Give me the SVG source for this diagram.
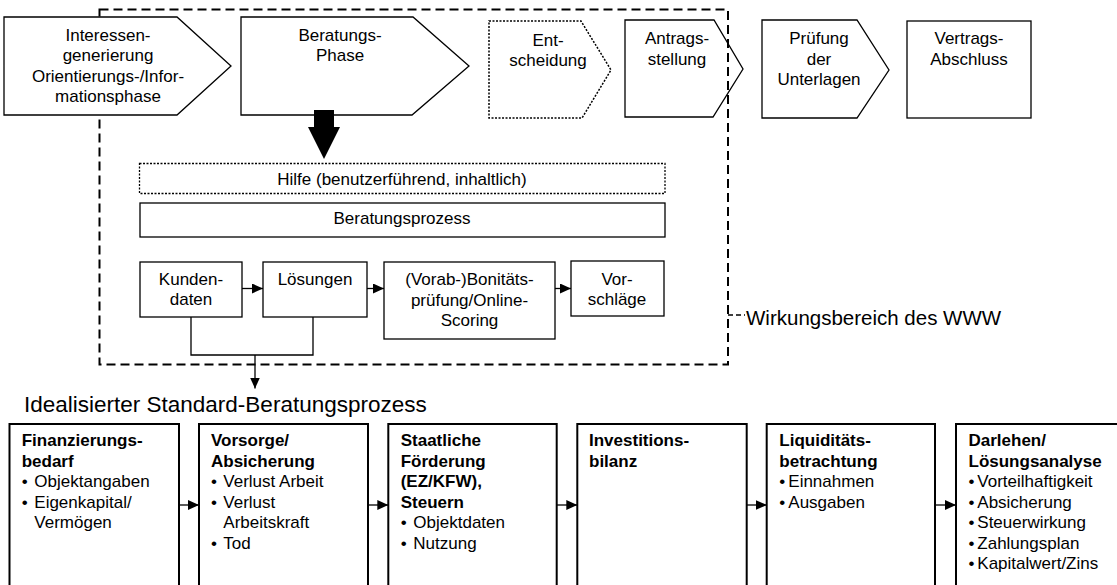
<svg xmlns="http://www.w3.org/2000/svg" width="1117" height="585" viewBox="0 0 1117 585">
<style>
text{font-family:"Liberation Sans",Arial,Helvetica,sans-serif;font-size:17px;fill:#000}
.c{text-anchor:middle}
.b{font-weight:bold}
.h{font-size:22.5px}
.w{font-size:20.5px}
.box{fill:#fff;stroke:#000;stroke-width:1.3}
.open{fill:none;stroke:#000;stroke-width:1.3}
.dot{stroke-dasharray:2 1.5;stroke-width:1.5}
.big{fill:#fff;stroke:#000;stroke-width:2}
.ln{fill:none;stroke:#000;stroke-width:1.3}
.dash{fill:none;stroke:#000;stroke-width:2;stroke-dasharray:9 5}
</style>
<defs>
<marker id="ah" markerUnits="userSpaceOnUse" markerWidth="12" markerHeight="10" refX="11" refY="5" orient="auto">
<path d="M0,0 L11,5 L0,10 z" fill="#000"/>
</marker>
</defs>

<g id="wirkungsbereich">
<rect class="dash" x="99.5" y="9.5" width="628.5" height="355"/>
<line class="ln" x1="728" y1="315" x2="745" y2="315" stroke-dasharray="5 3"/>
<text class="w" x="746" y="325">Wirkungsbereich des WWW</text>
</g>

<g id="interessen">
<polygon class="box" points="4,17 177,17 231,66 177,115 4,115"/>
<text class="c" x="108" y="40.5">Interessen-</text>
<text class="c" x="108" y="61">generierung</text>
<text class="c" x="108" y="81.5">Orientierungs-/Infor-</text>
<text class="c" x="108" y="102">mationsphase</text>
</g>
<g id="beratungsphase">
<polygon class="box" points="241,17 413,17 469,66 412,115 241,115"/>
<text class="c" x="340" y="40.5">Beratungs-</text>
<text class="c" x="340" y="61">Phase</text>
</g>
<g id="entscheidung">
<polygon class="box dot" points="489,21 581,21 611,70 582,118 489,118"/>
<text class="c" x="548" y="45.5">Ent-</text>
<text class="c" x="548" y="65.5">scheidung</text>
</g>
<g id="antragsstellung">
<polygon class="open" points="625,20 714,20 743,69 713,117 625,117"/>
<text class="c" x="677" y="44">Antrags-</text>
<text class="c" x="677" y="64.5">stellung</text>
</g>
<g id="pruefung">
<polygon class="box" points="762,20 857,20 889,70 857,118 762,118"/>
<text class="c" x="819" y="44">Prüfung</text>
<text class="c" x="819" y="64.5">der</text>
<text class="c" x="819" y="85">Unterlagen</text>
</g>
<g id="vertragsabschluss">
<rect class="box" x="907" y="21" width="124" height="97"/>
<text class="c" x="969" y="44">Vertrags-</text>
<text class="c" x="969" y="64.5">Abschluss</text>
</g>

<g id="hilfe">
<rect class="box" x="139.5" y="163.5" width="525.5" height="30" stroke-dasharray="2 1.5" stroke-width="1.6"/>
<text class="c" x="402" y="184.5">Hilfe (benutzerführend, inhaltlich)</text>
</g>
<g id="beratungsprozess">
<rect class="box" x="140" y="203" width="525" height="34"/>
<text class="c" x="402" y="224">Beratungsprozess</text>
</g>
<g id="kundendaten">
<rect class="box" x="140" y="262" width="102" height="55"/>
<text class="c" x="191" y="285">Kunden-</text>
<text class="c" x="191" y="305">daten</text>
</g>
<g id="loesungen">
<rect class="box" x="263" y="262" width="104" height="55"/>
<text class="c" x="315" y="285">Lösungen</text>
</g>
<g id="bonitaet">
<rect class="box" x="384" y="262" width="171" height="77"/>
<text class="c" x="469.5" y="285">(Vorab-)Bonitäts-</text>
<text class="c" x="469.5" y="305.5">prüfung/Online-</text>
<text class="c" x="469.5" y="326">Scoring</text>
</g>
<g id="vorschlaege">
<rect class="box" x="571" y="261" width="93" height="55"/>
<text class="c" x="617" y="285">Vor-</text>
<text class="c" x="617" y="304.5">schläge</text>
</g>

<g id="heading">
<text class="h" x="24" y="411.5">Idealisierter Standard-Beratungsprozess</text>
</g>

<g id="finanzierungsbedarf">
<rect class="big" x="9.5" y="424" width="169.5" height="180"/>
<text class="b" x="21.7" y="446">Finanzierungs-</text>
<text class="b" x="21.7" y="466.5">bedarf</text>
<text x="21.7" y="487">•</text><text x="34.3" y="487">Objektangaben</text>
<text x="21.7" y="507.5">•</text><text x="34.3" y="507.5">Eigenkapital/</text>
<text x="34.3" y="528">Vermögen</text>
</g>
<g id="vorsorge">
<rect class="big" x="199" y="424" width="169" height="180"/>
<text class="b" x="211" y="446">Vorsorge/</text>
<text class="b" x="211" y="466.5">Absicherung</text>
<text x="211" y="487">•</text><text x="223.3" y="487">Verlust Arbeit</text>
<text x="211" y="507.5">•</text><text x="223.3" y="507.5">Verlust</text>
<text x="223.3" y="528">Arbeitskraft</text>
<text x="211" y="548.5">•</text><text x="223.3" y="548.5">Tod</text>
</g>
<g id="foerderung">
<rect class="big" x="388.3" y="424" width="168.4" height="180"/>
<text class="b" x="400.7" y="446">Staatliche</text>
<text class="b" x="400.7" y="466.5">Förderung</text>
<text class="b" x="400.7" y="487">(EZ/KFW),</text>
<text class="b" x="400.7" y="507.5">Steuern</text>
<text x="400.7" y="528">•</text><text x="413.3" y="528">Objektdaten</text>
<text x="400.7" y="548.5">•</text><text x="413.3" y="548.5">Nutzung</text>
</g>
<g id="investitionsbilanz">
<rect class="big" x="577.3" y="424" width="169.4" height="180"/>
<text class="b" x="589" y="446">Investitions-</text>
<text class="b" x="589" y="466.5">bilanz</text>
</g>
<g id="liquiditaet">
<rect class="big" x="766.7" y="424" width="168.3" height="180"/>
<text class="b" x="779.3" y="446">Liquiditäts-</text>
<text class="b" x="779.3" y="466.5">betrachtung</text>
<text x="779.3" y="487">•</text><text x="788.3" y="487">Einnahmen</text>
<text x="779.3" y="507.5">•</text><text x="788.3" y="507.5">Ausgaben</text>
</g>
<g id="darlehen">
<rect class="big" x="956" y="424" width="169" height="180"/>
<text class="b" x="968.5" y="446">Darlehen/</text>
<text class="b" x="968.5" y="466.5">Lösungsanalyse</text>
<text x="968.5" y="487">•</text><text x="977.3" y="487">Vorteilhaftigkeit</text>
<text x="968.5" y="507.5">•</text><text x="977.3" y="507.5">Absicherung</text>
<text x="968.5" y="528">•</text><text x="977.3" y="528">Steuerwirkung</text>
<text x="968.5" y="548.5">•</text><text x="977.3" y="548.5">Zahlungsplan</text>
<text x="968.5" y="569">•</text><text x="977.3" y="569">Kapitalwert/Zins</text>
</g>

<g id="connectors">
<polygon points="314,110 334,110 334,127 340,127 324,159 308,127 314,127" fill="#000"/>
<line class="ln" x1="242" y1="288.5" x2="263" y2="288.5" marker-end="url(#ah)"/>
<line class="ln" x1="367" y1="288.5" x2="384" y2="288.5" marker-end="url(#ah)"/>
<line class="ln" x1="555" y1="288.5" x2="571" y2="288.5" marker-end="url(#ah)"/>
<polyline class="ln" points="191,317 191,355 313,355 313,317"/>
<line class="ln" x1="255" y1="355" x2="255" y2="388.5" marker-end="url(#ah)"/>
<line class="ln" x1="179" y1="505" x2="199" y2="505" marker-end="url(#ah)"/>
<line class="ln" x1="368" y1="505" x2="388.3" y2="505" marker-end="url(#ah)"/>
<line class="ln" x1="556.7" y1="505" x2="577.3" y2="505" marker-end="url(#ah)"/>
<line class="ln" x1="746.7" y1="505" x2="766.7" y2="505" marker-end="url(#ah)"/>
<line class="ln" x1="935" y1="505" x2="956" y2="505" marker-end="url(#ah)"/>
</g>
</svg>
